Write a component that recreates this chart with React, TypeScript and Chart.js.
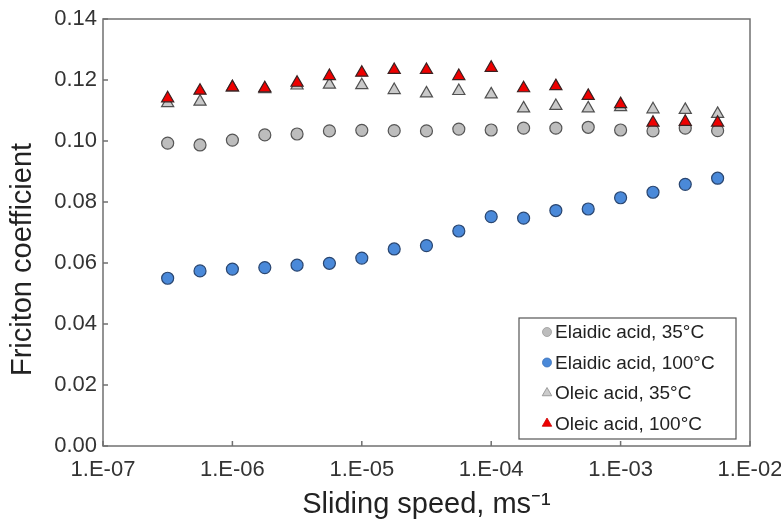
import React, { useEffect, useRef } from 'react';
import { Chart, registerables } from 'chart.js';

Chart.register(...registerables);

// Sliding speed (m/s)
const SPEEDS = [
  3.16e-7, 5.62e-7, 1.0e-6, 1.78e-6, 3.16e-6, 5.62e-6, 1.0e-5, 1.78e-5, 3.16e-5,
  5.62e-5, 1.0e-4, 1.78e-4, 3.16e-4, 5.62e-4, 1.0e-3, 1.78e-3, 3.16e-3, 5.62e-3,
];

const ELAIDIC_35 = [
  0.0993, 0.0987, 0.1003, 0.1020, 0.1023, 0.1033, 0.1035, 0.1034, 0.1033,
  0.1039, 0.1036, 0.1042, 0.1042, 0.1045, 0.1036, 0.1033, 0.1042, 0.1034,
];
const ELAIDIC_100 = [
  0.0550, 0.0574, 0.0580, 0.0585, 0.0593, 0.0599, 0.0616, 0.0646, 0.0657,
  0.0705, 0.0752, 0.0747, 0.0772, 0.0777, 0.0814, 0.0832, 0.0858, 0.0878,
];
const OLEIC_35 = [
  0.1124, 0.1129, 0.1176, 0.1170, 0.1182, 0.1185, 0.1183, 0.1167, 0.1156,
  0.1164, 0.1153, 0.1107, 0.1115, 0.1107, 0.1111, 0.1104, 0.1102, 0.1089,
];
const OLEIC_100 = [
  0.1140, 0.1165, 0.1176, 0.1173, 0.1191, 0.1213, 0.1224, 0.1233, 0.1233,
  0.1213, 0.1240, 0.1173, 0.1180, 0.1148, 0.1121, 0.1060, 0.1063, 0.1060,
];

const SERIES_NAMES = [
  'Elaidic acid, 35°C',
  'Elaidic acid, 100°C',
  'Oleic acid, 35°C',
  'Oleic acid, 100°C',
];

const X_TICKS = [1e-7, 1e-6, 1e-5, 1e-4, 1e-3, 1e-2];
const X_TICK_LABELS = ['1.E-07', '1.E-06', '1.E-05', '1.E-04', '1.E-03', '1.E-02'];
const Y_TICKS = [0, 0.02, 0.04, 0.06, 0.08, 0.1, 0.12, 0.14];
const Y_TICK_LABELS = ['0.00', '0.02', '0.04', '0.06', '0.08', '0.10', '0.12', '0.14'];

const X_TITLE = 'Sliding speed, ms⁻¹';
const Y_TITLE = 'Friciton coefficient';

const FONT = "'Liberation Sans', Arial, Helvetica, sans-serif";

const STYLES = [
  { style: 'circle', radius: 6, fill: '#bdbdbd', border: '#555555', lFill: '#bdbdbd', lBorder: '#9a9a9a', lr: 4.5 },
  { style: 'circle', radius: 6, fill: '#4a89d9', border: '#2a4670', lFill: '#4a89d9', lBorder: '#3a70b8', lr: 4.5 },
  { style: 'triangle', radius: 7, fill: '#c9c9c9', border: '#505050', lFill: '#cccccc', lBorder: '#8a8a8a', lr: 5.5 },
  { style: 'triangle', radius: 7, fill: '#ee0000', border: '#3a2020', lFill: '#ee0000', lBorder: '#cc0000', lr: 5.5 },
];

const SERIES = [ELAIDIC_35, ELAIDIC_100, OLEIC_35, OLEIC_100];

const decorPlugin = {
  id: 'decor',
  afterDraw(chart: any) {
    const { ctx, chartArea: a, scales } = chart;
    ctx.save();
    // frame
    ctx.strokeStyle = '#707070';
    ctx.lineWidth = 1.5;
    ctx.strokeRect(a.left, a.top, a.right - a.left, a.bottom - a.top);
    // inward ticks
    ctx.beginPath();
    scales.x.ticks.forEach((t: any) => {
      const px = scales.x.getPixelForValue(t.value);
      ctx.moveTo(px, a.bottom);
      ctx.lineTo(px, a.bottom - 5);
    });
    scales.y.ticks.forEach((t: any) => {
      const py = scales.y.getPixelForValue(t.value);
      ctx.moveTo(a.left, py);
      ctx.lineTo(a.left + 5, py);
    });
    ctx.stroke();

    // y-axis title
    ctx.save();
    ctx.translate(23, (a.top + a.bottom) / 2 + 27);
    ctx.rotate(-Math.PI / 2);
    ctx.fillStyle = '#222222';
    ctx.font = `29px ${FONT}`;
    ctx.textAlign = 'center';
    ctx.textBaseline = 'middle';
    ctx.fillText(Y_TITLE, 0, 0);
    ctx.restore();

    // legend
    const w = 217;
    const h = 121;
    const lx = a.right - 231;
    const ly = a.bottom - 128;
    ctx.fillStyle = '#ffffff';
    ctx.fillRect(lx, ly, w, h);
    ctx.strokeStyle = '#555555';
    ctx.lineWidth = 1.2;
    ctx.strokeRect(lx, ly, w, h);
    ctx.font = `19px ${FONT}`;
    ctx.textBaseline = 'middle';
    ctx.textAlign = 'left';
    SERIES_NAMES.forEach((name, i) => {
      const s = STYLES[i];
      const cy = ly + 14 + i * 30.5;
      const cx = lx + 28;
      ctx.beginPath();
      if (s.style === 'circle') {
        ctx.arc(cx, cy, s.lr, 0, Math.PI * 2);
      } else {
        const r = s.lr;
        ctx.moveTo(cx, cy - r);
        ctx.lineTo(cx + r * 0.866, cy + r * 0.5);
        ctx.lineTo(cx - r * 0.866, cy + r * 0.5);
        ctx.closePath();
      }
      ctx.fillStyle = s.lFill;
      ctx.fill();
      ctx.strokeStyle = s.lBorder;
      ctx.lineWidth = 0.8;
      ctx.stroke();
      ctx.fillStyle = '#222222';
      ctx.fillText(name, lx + 36, cy + 1);
    });
    ctx.restore();
  },
};

export default function App() {
  const canvasRef = useRef<HTMLCanvasElement | null>(null);

  useEffect(() => {
    const canvas = canvasRef.current;
    if (!canvas) return;
    const datasets = SERIES.map((vals, i) => ({
      label: SERIES_NAMES[i],
      data: SPEEDS.map((x, j) => ({ x, y: vals[j] })),
      pointStyle: STYLES[i].style,
      pointRadius: STYLES[i].radius,
      pointHoverRadius: STYLES[i].radius,
      pointBackgroundColor: STYLES[i].fill,
      pointBorderColor: STYLES[i].border,
      pointBorderWidth: 1.2,
      backgroundColor: STYLES[i].fill,
      borderColor: STYLES[i].border,
      showLine: false,
      order: 4 - i,
    }));

    const chart = new Chart(canvas, {
      type: 'scatter',
      data: { datasets } as any,
      options: {
        animation: false,
        responsive: false,
        maintainAspectRatio: false,
        layout: { padding: { left: 0, top: 19, right: 31, bottom: 0 } },
        plugins: {
          legend: { display: false },
          tooltip: { enabled: false },
        },
        scales: {
          x: {
            type: 'logarithmic',
            position: 'bottom',
            min: 1e-7,
            max: 1e-2,
            afterBuildTicks: (scale: any) => {
              scale.ticks = X_TICKS.map((v) => ({ value: v }));
            },
            afterFit: (scale: any) => {
              scale.height = 78;
              scale.paddingLeft = 0;
              scale.paddingRight = 0;
            },
            ticks: {
              autoSkip: false,
              maxRotation: 0,
              minRotation: 0,
              padding: 11,
              color: '#333333',
              font: { family: FONT, size: 22 },
              callback: (_v: any, i: number) => X_TICK_LABELS[i],
            },
            grid: { display: false, drawTicks: false },
            border: { display: false },
            title: {
              display: true,
              text: X_TITLE,
              color: '#222222',
              font: { family: FONT, size: 29 },
              padding: { top: 0, bottom: 2 },
            },
          },
          y: {
            type: 'linear',
            min: 0,
            max: 0.14,
            afterBuildTicks: (scale: any) => {
              scale.ticks = Y_TICKS.map((v) => ({ value: v }));
            },
            afterFit: (scale: any) => {
              scale.width = 103;
              scale.paddingTop = 0;
              scale.paddingBottom = 0;
            },
            ticks: {
              padding: 6,
              color: '#333333',
              font: { family: FONT, size: 22 },
              callback: (_v: any, i: number) => Y_TICK_LABELS[i],
            },
            grid: { display: false, drawTicks: false },
            border: { display: false },
          },
        },
      } as any,
      plugins: [decorPlugin],
    });
    return () => chart.destroy();
  }, []);

  return (
    <div style={{ position: 'absolute', left: 0, top: 0, width: 781, height: 524, background: '#ffffff' }}>
      <canvas ref={canvasRef} width={781} height={524} style={{ display: 'block', width: 781, height: 524 }} />
    </div>
  );
}
